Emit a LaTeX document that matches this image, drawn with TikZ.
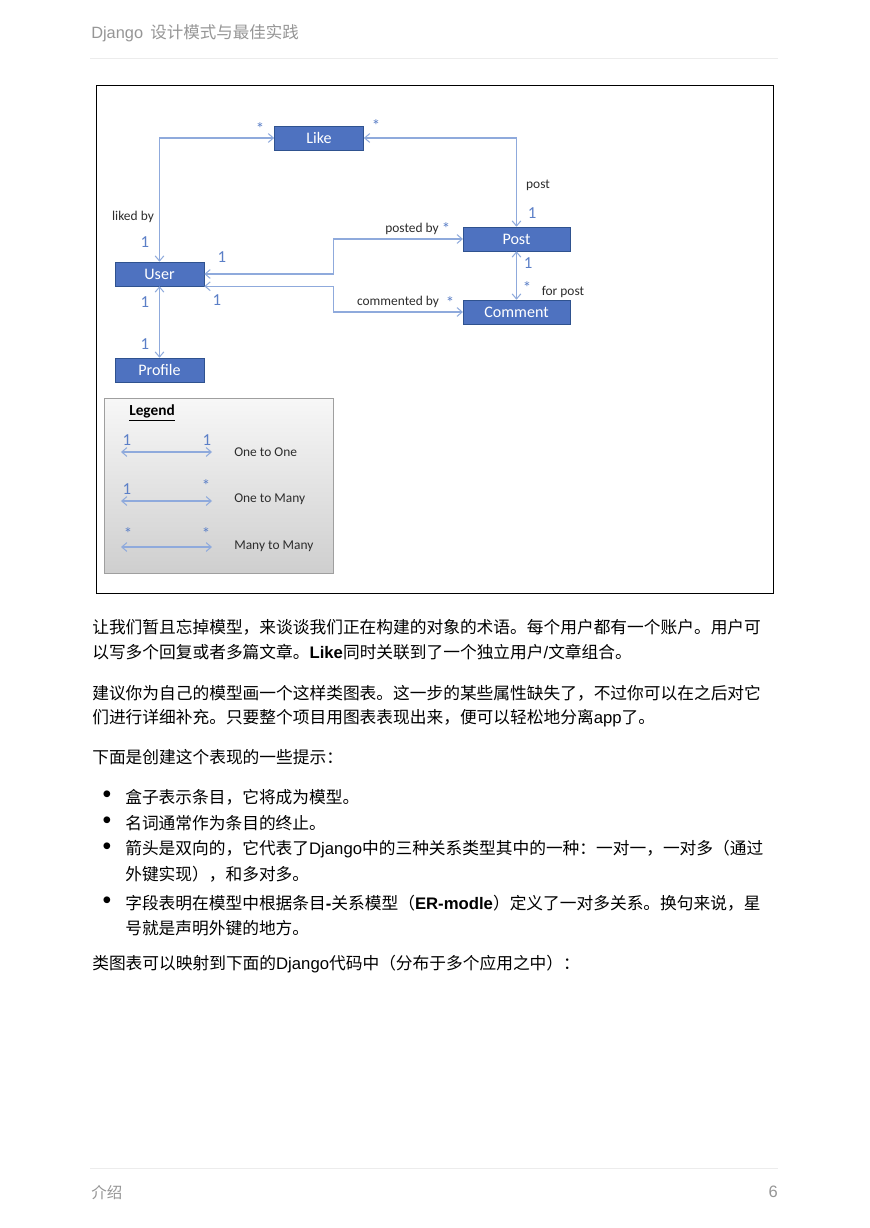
\documentclass[tikz,border=0pt]{standalone}
\usepackage{fontspec}
\setmainfont{Noto Sans CJK SC}
\newfontfamily\lat{Liberation Sans}
\newfontfamily\calib{Carlito}
\usetikzlibrary{arrows.meta}
\definecolor{boxblue}{RGB}{78,114,192}
\definecolor{boxedge}{RGB}{47,82,143}
\definecolor{relblue}{RGB}{143,170,220}
\definecolor{numblue}{RGB}{91,127,199}
\definecolor{labelgray}{RGB}{45,45,45}
\definecolor{pagegray}{RGB}{150,150,150}
\newcommand{\en}[1]{{\lat #1}}

\begin{document}
\begin{tikzpicture}[x=0.685pt, y=-0.685pt,
    box/.style={draw=boxedge, fill=boxblue, text=white, minimum height=16.4pt,
      minimum width=#1, inner sep=0pt, font=\calib\fontsize{11}{13}\selectfont},
    box/.default=61pt,
    rel/.style={draw=relblue, line width=0.7pt,
      {Straight Barb[length=3.5pt,width=6pt]}-{Straight Barb[length=3.5pt,width=6pt]}},
    num/.style={text=numblue, inner sep=0pt, font=\calib\fontsize{11.5}{13}\selectfont},
    note/.style={text=labelgray, inner sep=0pt, font=\calib\fontsize{9.2}{11}\selectfont},
    body/.style={anchor=west, inner sep=0pt, font=\fontsize{11.45}{14}\selectfont},
    pagetext/.style={inner sep=0pt, text=pagegray}]
  \fill[white] (0,0) rectangle (869,1228);
  \useasboundingbox (0,0) rectangle (869,1228);

  % running head
  \node[pagetext, anchor=west] (head) at (91,33)
    {\en{\fontsize{11.2}{13}\selectfont Django}\hspace{5pt}{\fontsize{11.3}{14}\selectfont 设计模式与最佳实践}};
  \draw[gray!15] (90,58.5) -- (778,58.5);

  % class diagram
  \draw[black, line width=0.6pt] (96,85.5) rectangle (773,593);
  \node[box] (like) at (319,138) {Like};
  \node[box=73pt] (post) at (516.5,239) {Post};
  \node[box] (user) at (159.5,274) {User};
  \node[box=73pt] (comment) at (516.5,312) {Comment};
  \node[box] (profile) at (159.5,370) {Profile};

  \draw[rel] (user.north) |- (like.west);
  \draw[rel] (like.east) -| (post.north);
  \draw[rel] (user.east) -- ++(129,0) |- (post.west);
  \draw[rel] (user.south east) -- ++(129,0) |- (comment.west);
  \draw[rel] (post.south) -- (comment.north);
  \draw[rel] (user.south) -- (profile.north);

  \node[num] (starLikeUser) at (260,129) {*};
  \node[num] (starLikePost) at (376,126) {*};
  \node[note] (likedBy) at (133,217) {liked by};
  \node[num] (oneUserLike) at (145,242) {1};
  \node[note] (postLbl) at (538,185) {post};
  \node[num] (onePostLike) at (532,213) {1};
  \node[note] (postedBy) at (412,229) {posted by};
  \node[num] (starPostedBy) at (446,229) {*};
  \node[num] (oneUserPost) at (222,257) {1};
  \node[note] (commentedBy) at (398,302) {commented by};
  \node[num] (starCommented) at (450,303) {*};
  \node[num] (oneUserComment) at (217,300) {1};
  \node[num] (onePostComment) at (528,263) {1};
  \node[num] (starCommentPost) at (527,288) {*};
  \node[note] (forPost) at (563,292) {for post};
  \node[num] (oneUserProfile) at (145,302) {1};
  \node[num] (oneProfileUser) at (145,344) {1};

  % legend
  \shade[top color=gray!6, bottom color=gray!38, draw=gray!75, line width=0.6pt]
    (104,398) rectangle (333,573);
  \node[inner sep=0pt, font=\calib\bfseries\fontsize{10.5}{12}\selectfont] (legend) at (152,413)
    {\underline{Legend}};
  \coordinate (oneOneA) at (121,452);
  \coordinate (oneOneB) at (212,452);
  \coordinate (oneManyA) at (121,501);
  \coordinate (oneManyB) at (212,501);
  \coordinate (manyManyA) at (121,547);
  \coordinate (manyManyB) at (212,547);
  \draw[rel] (oneOneA) -- (oneOneB);
  \draw[rel] (oneManyA) -- (oneManyB);
  \draw[rel] (manyManyA) -- (manyManyB);
  \node[num] (lgOneOneL) at (127,440) {1};
  \node[num] (lgOneOneR) at (207,440) {1};
  \node[num] (lgOneManyL) at (127,489) {1};
  \node[num] (lgOneManyR) at (206,486) {*};
  \node[num] (lgManyManyL) at (128,534) {*};
  \node[num] (lgManyManyR) at (206,534) {*};
  \node[note, anchor=west] (oneToOne) at (234,452) {One to One};
  \node[note, anchor=west] (oneToMany) at (234,499) {One to Many};
  \node[note, anchor=west] (manyToMany) at (234,546) {Many to Many};

  % body text
  \node[body] (p1a) at (92,627) {让我们暂且忘掉模型，来谈谈我们正在构建的对象的术语。每个用户都有一个账户。用户可};
  \node[body] (p1b) at (92,652) {以写多个回复或者多篇文章。\en{\bfseries Like}同时关联到了一个独立用户\en{/}文章组合。};
  \node[body] (p2a) at (92,693) {建议你为自己的模型画一个这样类图表。这一步的某些属性缺失了，不过你可以在之后对它};
  \node[body] (p2b) at (92,718) {们进行详细补充。只要整个项目用图表表现出来，便可以轻松地分离\en{app}了。};
  \node[body] (p3) at (92,757) {下面是创建这个表现的一些提示：};
  \foreach \y [count=\i] in {797,823,849,903} {
    \node[inner sep=0pt, font=\lat\fontsize{17}{17}\selectfont] (dot\i) at (107,\y) {\textbullet};
  }
  \node[body] (b1) at (125,797) {盒子表示条目，它将成为模型。};
  \node[body] (b2) at (125,823) {名词通常作为条目的终止。};
  \node[body] (b3a) at (125,849) {箭头是双向的，它代表了\en{Django}中的三种关系类型其中的一种：一对一，一对多（通过};
  \node[body] (b3b) at (125,874) {外键实现），和多对多。};
  \node[body] (b4a) at (125,903) {字段表明在模型中根据条目\en{\bfseries -}关系模型（\en{\bfseries ER-modle}）定义了一对多关系。换句来说，星};
  \node[body] (b4b) at (125,928) {号就是声明外键的地方。};
  \node[body] (p4) at (92,964) {类图表可以映射到下面的\en{Django}代码中（分布于多个应用之中）：};

  % page foot
  \draw[gray!15] (90,1168) -- (778,1168);
  \node[pagetext, anchor=west, font=\fontsize{10.6}{13}\selectfont] (chapter) at (91,1193) {介绍};
  \node[pagetext, anchor=east, font=\lat\fontsize{11.3}{13}\selectfont] (pageno) at (778,1192) {6};
\end{tikzpicture}
\end{document}
